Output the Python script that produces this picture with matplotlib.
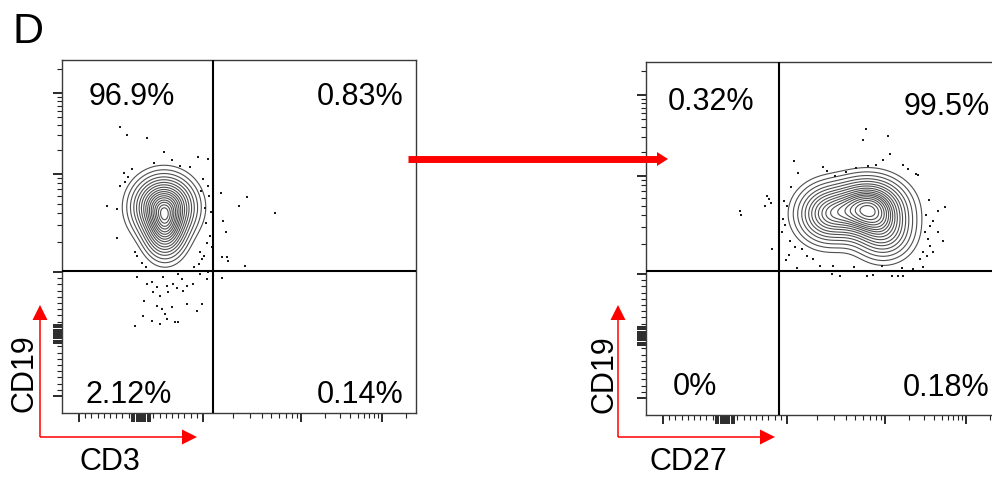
import numpy as np
import matplotlib
matplotlib.use("Agg")
import matplotlib.pyplot as plt
from matplotlib.patches import Polygon

plt.rcParams['font.family'] = ['Liberation Sans', 'DejaVu Sans']

# ---------------- data (display / channel units of the biexponential axes) -------------
# density components: (cx, cy, sx, sy, weight)
LEFT_COMPONENTS = [(102, 206, 16, 16, 1.0),
                   (103, 182, 11, 15, 0.6)]
RIGHT_COMPONENTS = [(222, 206, 20, 16, 1.0),
                    (182, 201, 17, 16, 0.55),
                    (238, 182, 16, 15, 0.35)]
CONTOUR_FRACTIONS = [0.04, 0.09, 0.15, 0.21, 0.28, 0.35, 0.42, 0.49, 0.56,
                     0.63, 0.70, 0.76, 0.82, 0.87, 0.915, 0.95, 0.975]

LEFT_DOTS_X = [58, 65, 85, 102, 110, 92, 118, 128, 136, 146, 45, 55, 55, 58, 63, 141, 146, 147,
               149, 148, 151, 159, 185, 177, 213, 161, 164, 150, 160, 165, 166, 183, 142, 140,
               75, 73, 138, 75, 90, 95, 105, 111, 120, 125, 131, 145, 151, 160, 82, 91, 98,
               106, 115, 121, 95, 100, 110, 125, 140, 135, 81, 90, 98, 103, 105, 113, 116, 73,
               85, 101, 116, 146, 138, 62, 66, 70, 139, 143, 144, 145, 80, 84, 132, 137]
LEFT_DOTS_Y = [286, 278, 275, 261, 253, 250, 247, 246, 256, 254, 207, 204, 175, 227, 231, 234,
               227, 217, 201, 177, 177, 220, 216, 207, 200, 192, 181, 166, 156, 156, 152, 147,
               157, 154, 157, 161, 161, 136, 131, 126, 127, 129, 134, 127, 129, 134, 136, 135,
               112, 121, 117, 121, 125, 122, 107, 104, 106, 109, 109, 102, 97, 92, 89, 99, 94,
               91, 91, 87, 129, 136, 139, 141, 139, 240, 236, 244, 222, 205, 190, 170, 150, 146,
               146, 149]

RIGHT_DOTS_X = [220, 217, 242, 244, 237, 257, 272, 148, 152, 177, 181, 189, 222, 94, 95, 121,
                123, 125, 119, 126, 138, 141, 137, 136, 140, 144, 149, 156, 161, 167, 151, 174,
                186, 194, 208, 221, 227, 236, 246, 252, 257, 267, 277, 281, 287, 284, 279, 284,
                292, 299, 292, 287, 297, 282, 274, 277, 256, 187, 200, 210, 230, 262, 270, 145,
                139, 143, 280, 283]
RIGHT_DOTS_Y = [286, 275, 279, 261, 255, 250, 240, 254, 242, 248, 244, 239, 249, 204, 200, 219,
                216, 212, 209, 166, 214, 209, 196, 183, 155, 174, 168, 166, 159, 156, 147, 149,
                141, 139, 148, 139, 140, 149, 139, 139, 139, 146, 148, 159, 163, 169, 183, 189,
                183, 208, 204, 194, 174, 176, 156, 163, 147, 149, 243, 247, 250, 246, 241, 228,
                190, 160, 200, 215]

# gates (display units)
LEFT_GATE = (151, 142)
RIGHT_GATE = (133, 144)

LEFT_PCT = ['96.9%', '0.83%', '2.12%', '0.14%']
RIGHT_PCT = ['0.32%', '99.5%', '0%', '0.18%']

MAJOR_TICKS = [-1000, 1000, 1e4, 1e5]
ZERO_CLUSTER = [-140, -105, -70, -35, 0, 35, 70, 105, 140]
LINEAR_MINOR = [-900, -800, -700, -600, -500, -400, -300, -200,
                200, 300, 400, 500, 600, 700, 800, 900]
LOG_MINOR = [2e3, 3e3, 4e3, 5e3, 6e3, 7e3, 8e3, 9e3,
             2e4, 3e4, 4e4, 5e4, 6e4, 7e4, 8e4, 9e4, 2e5]


def to_display(v):
    """biexponential-like display transform (value -> axis units)."""
    v = np.asarray(v, float)
    lin = 79 + v * 0.062
    a = np.log10(np.maximum(np.abs(v), 1000))
    lg = np.interp(a, [3, 4, 5, 5.42], [141, 239, 320, 354])
    pos = np.where(v > 1000, lg, lin)
    pos = np.where(v < -1000, 79 - (lg - 79), pos)
    return pos


W, H = 992, 481
fig = plt.figure(figsize=(W / 100, H / 100), dpi=100)


def add_panel(left_px, top_px, w=354, h=353):
    return fig.add_axes([left_px / W, (H - top_px - h) / H, w / W, h / H])


axL = add_panel(62, 61)
axR = add_panel(646, 63)

xs = np.arange(0, 355, 1.0)
ys = np.arange(0, 354, 1.0)
X, Y = np.meshgrid(xs, ys)


def density(comps):
    Z = np.zeros_like(X)
    for cx, cy, sx, sy, w in comps:
        Z += w * np.exp(-((X - cx) ** 2 / (2 * sx ** 2) + (Y - cy) ** 2 / (2 * sy ** 2)))
    return Z


def mass_levels(Z, fracs):
    z = np.sort(Z.ravel())[::-1]
    c = np.cumsum(z) / z.sum()
    lv = [z[min(np.searchsorted(c, f), len(z) - 1)] for f in fracs]
    return sorted(set(lv))


def style_axes(ax, gate, dots_x, dots_y, comps):
    ax.set_xlim(0, 354)
    ax.set_ylim(0, 353)
    Z = density(comps)
    ax.contour(X, Y, Z, levels=mass_levels(Z, CONTOUR_FRACTIONS),
               colors='#4f4f4f', linewidths=0.8, zorder=2)
    ax.scatter(dots_x, dots_y, s=1.8, marker='s', color='#1a1a1a', linewidths=0, zorder=3)
    ax.axvline(gate[0], color='black', lw=1.5, zorder=4)
    ax.axhline(gate[1], color='black', lw=1.5, zorder=4)
    for sp in ax.spines.values():
        sp.set_color('#3a3a3a')
        sp.set_linewidth(1.0)
    major = to_display(MAJOR_TICKS + ZERO_CLUSTER)
    minor = to_display(LINEAR_MINOR + LOG_MINOR)
    for axis in (ax.xaxis, ax.yaxis):
        axis.set_ticks(major)
        axis.set_ticks(minor, minor=True)
        axis.set_ticklabels([])
    ax.tick_params(which='major', direction='out', length=6.5, width=1.35, color='#222222')
    ax.tick_params(which='minor', direction='out', length=3.6, width=0.8, color='#222222')
    ax.tick_params(top=False, right=False)


style_axes(axL, LEFT_GATE, LEFT_DOTS_X, LEFT_DOTS_Y, LEFT_COMPONENTS)
style_axes(axR, RIGHT_GATE, RIGHT_DOTS_X, RIGHT_DOTS_Y, RIGHT_COMPONENTS)

# ---------------- overlay in pixel coordinates -------------
ov = fig.add_axes([0, 0, 1, 1], zorder=10)
ov.set_xlim(0, W)
ov.set_ylim(H, 0)
ov.axis('off')
ov.patch.set_alpha(0)

RED = '#ff0000'


def l_arrow(x0, y0, ytip, xtip):
    ov.plot([x0, x0], [y0, ytip + 14], color=RED, lw=1.1, solid_capstyle='butt')
    ov.plot([x0, xtip - 14], [y0, y0], color=RED, lw=1.1, solid_capstyle='butt')
    ov.add_patch(Polygon([(x0 - 7.5, ytip + 15), (x0 + 7.5, ytip + 15), (x0, ytip)],
                         closed=True, color=RED, lw=0))
    ov.add_patch(Polygon([(xtip - 15, y0 - 7.5), (xtip - 15, y0 + 7.5), (xtip, y0)],
                         closed=True, color=RED, lw=0))


l_arrow(40, 438, 306, 197)
l_arrow(618, 438, 306, 775)

# big arrow between panels
ov.plot([408, 659], [160, 160], color=RED, lw=5.0, solid_capstyle='butt')
ov.add_patch(Polygon([(657, 153), (657, 167), (668, 160)], closed=True, color=RED, lw=0))

fs = 22
ov.text(12, 43, 'D', fontsize=31, ha='left', va='baseline')

for txt, (x, y) in zip(LEFT_PCT, [(131.5, 105), (360, 105), (129, 403), (360, 403)]):
    ov.text(x, y, txt, fontsize=fs, ha='center', va='baseline')
for txt, (x, y) in zip(RIGHT_PCT, [(711.5, 110), (946.5, 115), (695, 395), (946.5, 396)]):
    ov.text(x, y, txt, fontsize=fs, ha='center', va='baseline')

ov.text(110, 470, 'CD3', fontsize=fs, ha='center', va='baseline')
ov.text(688.5, 470, 'CD27', fontsize=fs, ha='center', va='baseline')
ov.text(33, 373, 'CD19', fontsize=fs, ha='center', va='baseline', rotation=90,
        rotation_mode='anchor')
ov.text(612, 374, 'CD19', fontsize=fs, ha='center', va='baseline', rotation=90,
        rotation_mode='anchor')

fig.savefig('out.png', dpi=100)
